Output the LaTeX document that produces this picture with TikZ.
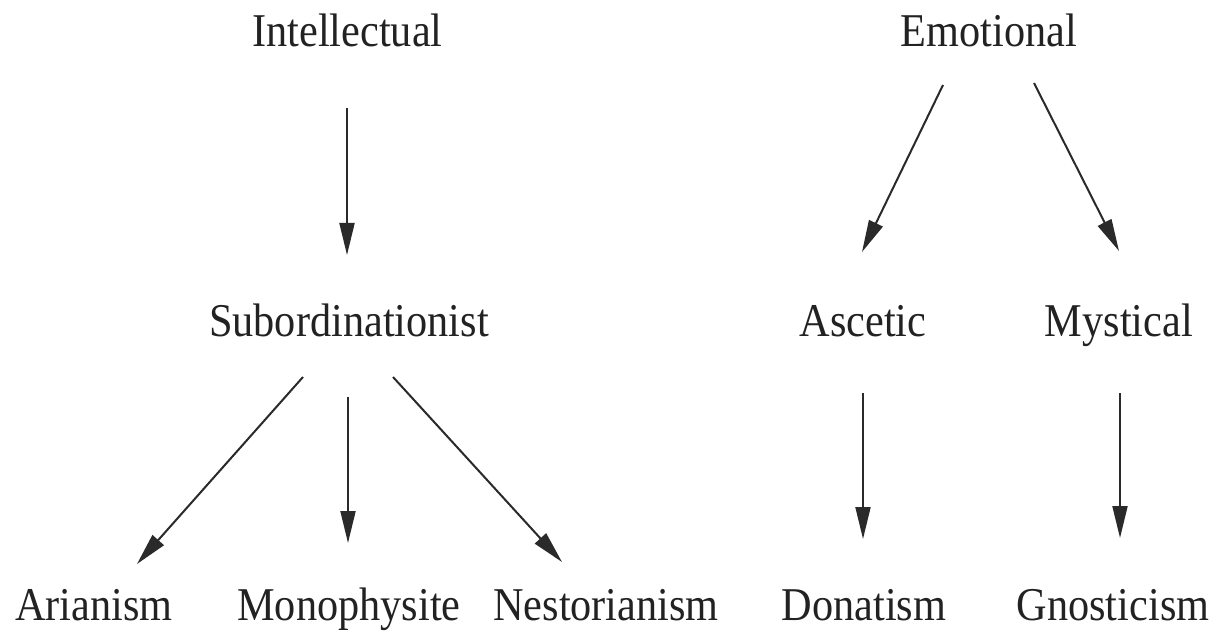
\documentclass[tikz,border=0pt]{standalone}
\usepackage{fontspec}
\setmainfont{Liberation Serif}
\usetikzlibrary{arrows.meta}
\definecolor{ink}{HTML}{222222}
\definecolor{lineink}{HTML}{2A2A2A}
\tikzset{
  lbl/.style={anchor=base, inner sep=0pt, text=ink,
    font=\fontsize{47}{56}\selectfont},
  arr/.style={draw=lineink, line width=2pt,
    -{Triangle[length=32pt,width=15pt]}}
}
\newcommand{\sq}[1]{\scalebox{0.9}[1]{#1}}
\begin{document}
\begin{tikzpicture}[x=1pt,y=-1pt]
\path[use as bounding box, fill=white] (0,0) rectangle (1226,636);
% nodes
\node[lbl] (int) at (347.5,47) {\sq{Intellectual}};
\node[lbl] (emo) at (989,47) {\sq{Emotional}};
\node[lbl] (sub) at (349,336) {\sq{Subordinationist}};
\node[lbl] (asc) at (863,336) {\sq{Ascetic}};
\node[lbl] (mys) at (1119,336) {\sq{Mystical}};
\node[lbl] (ari) at (94,620) {\sq{Arianism}};
\node[lbl] (mon) at (349,620) {\sq{Monophysite}};
\node[lbl] (nes) at (606,620) {\sq{Nestorianism}};
\node[lbl] (don) at (864,620) {\sq{Donatism}};
\node[lbl] (gno) at (1113,620) {\sq{Gnosticism}};
% connectors
\draw[arr] ([shift={(-0.5,61)}]int.base) -- ([shift={(-2,-81)}]sub.base);
\draw[arr] ([shift={(-46,41)}]sub.base) -- ([shift={(43,-56)}]ari.base);
\draw[arr] ([shift={(-1,61)}]sub.base) -- ([shift={(-1,-77)}]mon.base);
\draw[arr] ([shift={(44,41)}]sub.base) -- ([shift={(-44,-58)}]nes.base);
\draw[arr] ([shift={(-46,38)}]emo.base) -- ([shift={(-1,-84)}]asc.base);
\draw[arr] ([shift={(45,36)}]emo.base) -- ([shift={(0,-85)}]mys.base);
\draw[arr] ([shift={(0,57)}]asc.base) -- ([shift={(-1,-81)}]don.base);
\draw[arr] ([shift={(1,57)}]mys.base) -- ([shift={(7,-82)}]gno.base);
\end{tikzpicture}
\end{document}
